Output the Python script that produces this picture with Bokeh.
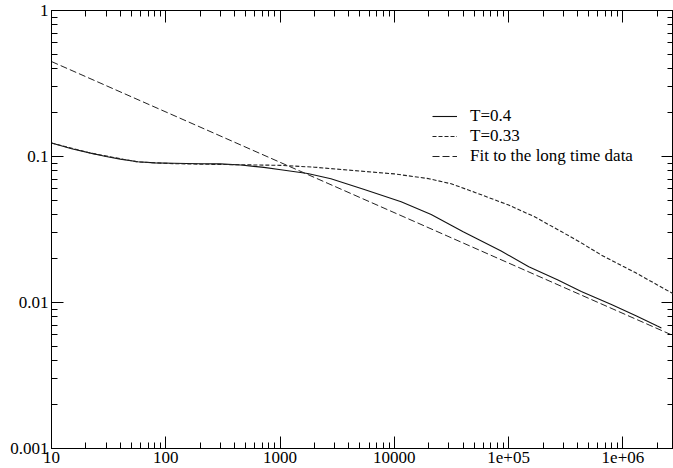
from bokeh.plotting import figure
from bokeh.models import LogAxis, FixedTicker, Legend, LegendItem, Range1d, CustomJSTickFormatter
from bokeh.embed import file_html
from bokeh.resources import INLINE

# ---- data ----
t04_x = [10, 15, 22, 30, 40, 57, 80, 117, 200, 300, 453, 721, 1016, 1742, 2786,
         5460, 11460, 21000, 40000, 86000, 150000, 270000, 432000, 793000,
         1300000, 2000000, 2170000]
t04_y = [0.1236, 0.113, 0.1055, 0.100, 0.096, 0.0920, 0.0905, 0.0900, 0.0893,
         0.0890, 0.0875, 0.0842, 0.0812, 0.0765, 0.0705, 0.0595, 0.0490, 0.0400,
         0.0305, 0.0225, 0.0176, 0.01425, 0.0119, 0.0097, 0.0081, 0.0069, 0.0067]

t033_x = [10, 22, 57, 117, 200, 453, 1000, 2000, 5000, 10000, 20000, 31400,
          50000, 100000, 167000, 289000, 432000, 649000, 1000000, 1270000,
          2000000, 2800000]
t033_y = [0.1236, 0.1055, 0.0917, 0.0893, 0.0886, 0.0878, 0.0870, 0.0845,
          0.0795, 0.0760, 0.0705, 0.0650, 0.0570, 0.0465, 0.0388, 0.0306,
          0.0256, 0.0211, 0.0177, 0.0161, 0.0132, 0.0114]

fit_x = [10, 2800000]
fit_y = [0.447, 0.0059]

x_tick_values = [10, 100, 1000, 10000, 100000, 1000000]
x_tick_labels = ["10", "100", "1000", "10000", "1e+05", "1e+06"]
y_tick_values = [0.001, 0.01, 0.1, 1]
y_tick_labels = ["0.001", "0.01", "0.1", "1"]

legend_labels = ["T=0.4", "T=0.33", "Fit to the long time data"]

FONT = "Liberation Serif"
FSIZE = "17px"


def minor_ticks(majors):
    out = []
    for m in majors + [majors[-1] * 10]:
        for k in range(2, 10):
            out.append(m * k)
    for k in range(2, 10):
        out.append(majors[0] / 10 * k)
    return out


def label_formatter(values, labels):
    return CustomJSTickFormatter(args=dict(vals=values, labs=labels), code="""
        let best = 0, bd = Infinity;
        for (let i = 0; i < vals.length; i++) {
            const d = Math.abs(Math.log10(tick) - Math.log10(vals[i]));
            if (d < bd) { bd = d; best = i; }
        }
        return bd < 1e-6 ? labs[best] : "";
    """)


p = figure(width=673, height=468, x_axis_type="log", y_axis_type="log",
           x_range=Range1d(10, 2.77e6), y_range=Range1d(0.001, 1),
           output_backend="svg", toolbar_location=None,
           min_border_left=51, min_border_right=0, min_border_top=10,
           min_border_bottom=20)
p.grid.visible = False
p.outline_line_color = "black"
p.outline_line_width = 1
p.background_fill_color = "white"
p.border_fill_color = "white"


def style_axis(ax, ticker, formatter, show_labels):
    ax.ticker = ticker
    ax.formatter = formatter
    ax.major_tick_in = 12
    ax.major_tick_out = 0
    ax.minor_tick_in = 6
    ax.minor_tick_out = 0
    ax.axis_line_color = "black"
    ax.major_tick_line_color = "black"
    ax.minor_tick_line_color = "black"
    if show_labels:
        ax.major_label_text_font = FONT
        ax.major_label_text_font_size = FSIZE
        ax.major_label_text_color = "black"
        ax.major_label_standoff = 3
    else:
        ax.major_label_text_font_size = "1px"
        ax.major_label_standoff = 0


style_axis(p.xaxis[0],
           FixedTicker(ticks=x_tick_values, minor_ticks=minor_ticks(x_tick_values)),
           label_formatter(x_tick_values, x_tick_labels), True)
style_axis(p.yaxis[0],
           FixedTicker(ticks=y_tick_values, minor_ticks=minor_ticks(y_tick_values)),
           label_formatter(y_tick_values, y_tick_labels), True)
top = LogAxis()
right = LogAxis()
style_axis(top, FixedTicker(ticks=x_tick_values, minor_ticks=minor_ticks(x_tick_values)),
           CustomJSTickFormatter(code="return ''"), False)
style_axis(right, FixedTicker(ticks=y_tick_values, minor_ticks=minor_ticks(y_tick_values)),
           CustomJSTickFormatter(code="return ''"), False)
p.add_layout(top, "above")
p.add_layout(right, "right")

r1 = p.line(t04_x, t04_y, line_color="#111111", line_width=1.1)
r2 = p.line(t033_x, t033_y, line_color="#222222", line_width=1.1, line_dash="4 2")
r3 = p.line(fit_x, fit_y, line_color="#222222", line_width=1.0, line_dash="7 3")

legend = Legend(items=[LegendItem(label=legend_labels[0], renderers=[r1]),
                       LegendItem(label=legend_labels[1], renderers=[r2]),
                       LegendItem(label=legend_labels[2], renderers=[r3])],
                location=(381, 282), orientation="vertical",
                border_line_color=None, background_fill_alpha=0,
                padding=0, margin=0, spacing=-4,
                glyph_width=25, glyph_height=16, label_height=16,
                label_standoff=13, label_text_font=FONT,
                label_text_font_size=FSIZE, label_text_color="black")
p.add_layout(legend, "center")

open("out.html", "w").write(file_html(p, INLINE))
